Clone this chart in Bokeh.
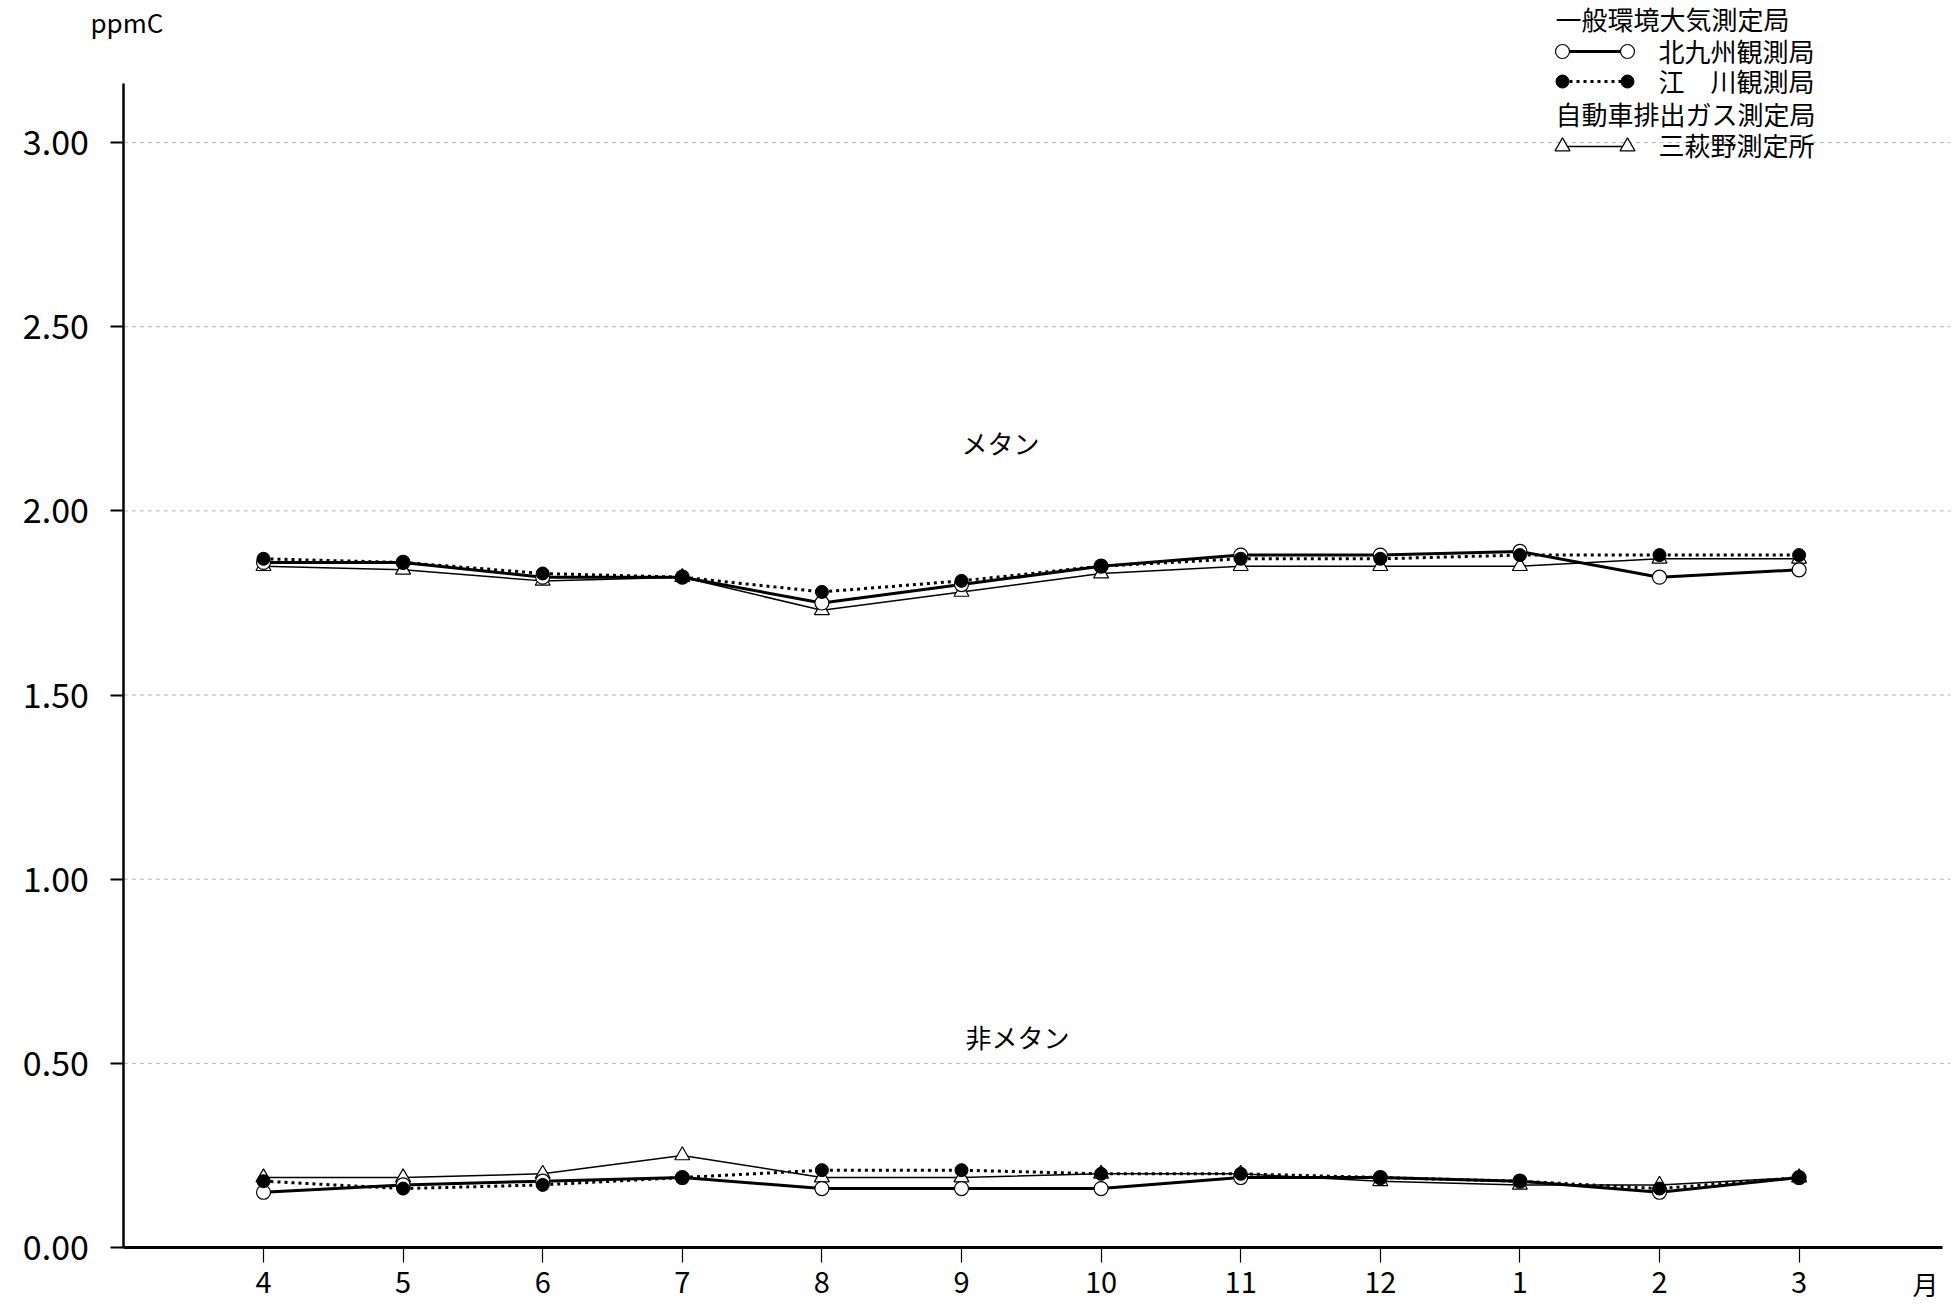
from bokeh.plotting import figure
from bokeh.models import Range1d, FixedTicker, Label
from bokeh.embed import file_html
from bokeh.resources import INLINE

# ---------------- data ----------------
MONTHS = ["4", "5", "6", "7", "8", "9", "10", "11", "12", "1", "2", "3"]

# メタン (ppmC)
KITAKYUSHU_CH4 = [1.86, 1.86, 1.82, 1.82, 1.75, 1.80, 1.85, 1.88, 1.88, 1.89, 1.82, 1.84]
EGAWA_CH4      = [1.87, 1.86, 1.83, 1.82, 1.78, 1.81, 1.85, 1.87, 1.87, 1.88, 1.88, 1.88]
SANHAGINO_CH4  = [1.85, 1.84, 1.81, 1.82, 1.73, 1.78, 1.83, 1.85, 1.85, 1.85, 1.87, 1.87]

# 非メタン (ppmC)
KITAKYUSHU_NMHC = [0.15, 0.17, 0.18, 0.19, 0.16, 0.16, 0.16, 0.19, 0.19, 0.18, 0.15, 0.19]
EGAWA_NMHC      = [0.18, 0.16, 0.17, 0.19, 0.21, 0.21, 0.20, 0.20, 0.19, 0.18, 0.16, 0.19]
SANHAGINO_NMHC  = [0.19, 0.19, 0.20, 0.25, 0.19, 0.19, 0.20, 0.20, 0.18, 0.17, 0.17, 0.19]

Y_TICKS = [0.0, 0.5, 1.0, 1.5, 2.0, 2.5, 3.0]
Y_TICK_LABELS = ["0.00", "0.50", "1.00", "1.50", "2.00", "2.50", "3.00"]

UNIT_LABEL = "ppmC"
MONTH_UNIT = "月"
CH4_LABEL = "メタン"
NMHC_LABEL = "非メタン"
GROUP1 = "一般環境大気測定局"
GROUP2 = "自動車排出ガス測定局"
NAME_KIT = "北九州観測局"
NAME_EGA = "江\u3000川観測局"
NAME_SAN = "三萩野測定所"

# ---------------- layout (pixel geometry of the page) ----------------
FONT = "Noto Sans CJK JP"
W, H = 1960, 1305
X_ZERO_PX = 263.0      # page x of first month
PX_PER_X = 139.6       # px per month
Y_ZERO_PX = 1247.0     # page y of value 0
PX_PER_Y = 368.3       # px per ppmC
X_AXIS_START, X_AXIS_END = -1.0, 12.03
Y_AXIS_TOP = 3.16
GRID_END_PX = 1950


def xd(px):
    return (px - X_ZERO_PX) / PX_PER_X


def yd(py):
    return (Y_ZERO_PX - py) / PX_PER_Y


X = list(range(len(MONTHS)))

p = figure(width=W, height=H,
           x_range=Range1d(xd(0), xd(W)), y_range=Range1d(yd(H), yd(0)),
           output_backend="svg", toolbar_location=None,
           min_border_left=0, min_border_right=0,
           min_border_top=0, min_border_bottom=0)
p.outline_line_color = None
p.background_fill_color = "white"
p.border_fill_color = "white"
p.xgrid.visible = False
p.ygrid.visible = False

# x axis
xa = p.xaxis[0]
xa.fixed_location = 0
xa.bounds = (X_AXIS_START, X_AXIS_END)
xa.ticker = FixedTicker(ticks=X)
xa.major_label_overrides = {i: m for i, m in enumerate(MONTHS)}
xa.minor_tick_line_color = None
xa.major_tick_out = 15
xa.major_tick_in = 0
xa.major_tick_line_width = 1.2
xa.axis_line_width = 3
xa.axis_line_color = "black"
xa.major_label_standoff = 9
xa.major_label_text_font = FONT
xa.major_label_text_font_size = "29px"
xa.major_label_text_color = "black"

# y axis
ya = p.yaxis[0]
ya.fixed_location = X_AXIS_START
ya.bounds = (0, Y_AXIS_TOP)
ya.ticker = FixedTicker(ticks=Y_TICKS)
ya.major_label_overrides = {t: l for t, l in zip(Y_TICKS, Y_TICK_LABELS)}
ya.minor_tick_line_color = None
ya.major_tick_out = 13
ya.major_tick_in = 0
ya.major_tick_line_width = 2
ya.axis_line_width = 2.5
ya.axis_line_color = "black"
ya.major_label_standoff = 22
ya.major_label_text_font = FONT
ya.major_label_text_font_size = "34px"
ya.major_label_text_color = "black"

# horizontal dashed grid lines (from the y axis to the right edge)
GY = Y_TICKS[1:]
p.segment(x0=[X_AXIS_START] * len(GY), y0=GY, x1=[xd(GRID_END_PX)] * len(GY), y1=GY,
          line_color="#b4b4b4", line_dash="4 4", line_width=1)

# ---------------- series ----------------
for ys in (SANHAGINO_CH4, SANHAGINO_NMHC):
    p.line(X, ys, line_color="black", line_width=1.5)
for ys in (KITAKYUSHU_CH4, KITAKYUSHU_NMHC):
    p.line(X, ys, line_color="black", line_width=3)
for ys in (EGAWA_CH4, EGAWA_NMHC):
    p.line(X, ys, line_color="black", line_width=3, line_dash="3 4")

for ys in (SANHAGINO_CH4, SANHAGINO_NMHC):
    p.scatter(X, ys, marker="triangle", size=15, fill_color="white",
              line_color="black", line_width=1.2)
for ys in (KITAKYUSHU_CH4, KITAKYUSHU_NMHC):
    p.scatter(X, ys, marker="circle", size=14, fill_color="white",
              line_color="black", line_width=1.2)
for ys in (EGAWA_CH4, EGAWA_NMHC):
    p.scatter(X, ys, marker="circle", size=13, fill_color="black",
              line_color="black", line_width=1)

# ---------------- legend ----------------
LG_X0, LG_X1, LG_TXT, LG_HEAD = 1562, 1627, 1658, 1555
ROW_H1, ROW_KIT, ROW_EGA, ROW_H2, ROW_SAN = 18, 50, 80, 113, 144

lx = [xd(LG_X0), xd(LG_X1)]
p.line(lx, [yd(ROW_KIT + 1)] * 2, line_color="black", line_width=3)
p.scatter(lx, [yd(ROW_KIT + 1)] * 2, marker="circle", size=14, fill_color="white",
          line_color="black", line_width=1.2)
p.line(lx, [yd(ROW_EGA + 1)] * 2, line_color="black", line_width=3, line_dash="3 4")
p.scatter(lx, [yd(ROW_EGA + 1)] * 2, marker="circle", size=13, fill_color="black",
          line_color="black")
p.line(lx, [yd(ROW_SAN + 2)] * 2, line_color="black", line_width=1.5)
p.scatter(lx, [yd(ROW_SAN + 2)] * 2, marker="triangle", size=15, fill_color="white",
          line_color="black", line_width=1.2)


def add_text(txt, px, py, size="26px", align="left"):
    p.add_layout(Label(x=xd(px), y=yd(py), text=txt, text_font=FONT,
                       text_font_size=size, text_align=align,
                       text_baseline="middle", text_color="black"))


add_text(GROUP1, LG_HEAD, ROW_H1)
add_text(NAME_KIT, LG_TXT, ROW_KIT)
add_text(NAME_EGA, LG_TXT, ROW_EGA)
add_text(GROUP2, LG_HEAD, ROW_H2)
add_text(NAME_SAN, LG_TXT, ROW_SAN)

add_text(UNIT_LABEL, 90, 21)
add_text(CH4_LABEL, 1000, 442, align="center")
add_text(NMHC_LABEL, 1017, 1036, align="center")
add_text(MONTH_UNIT, 1925, 1283, size="26px", align="center")

open("out.html", "w").write(file_html(p, INLINE))
